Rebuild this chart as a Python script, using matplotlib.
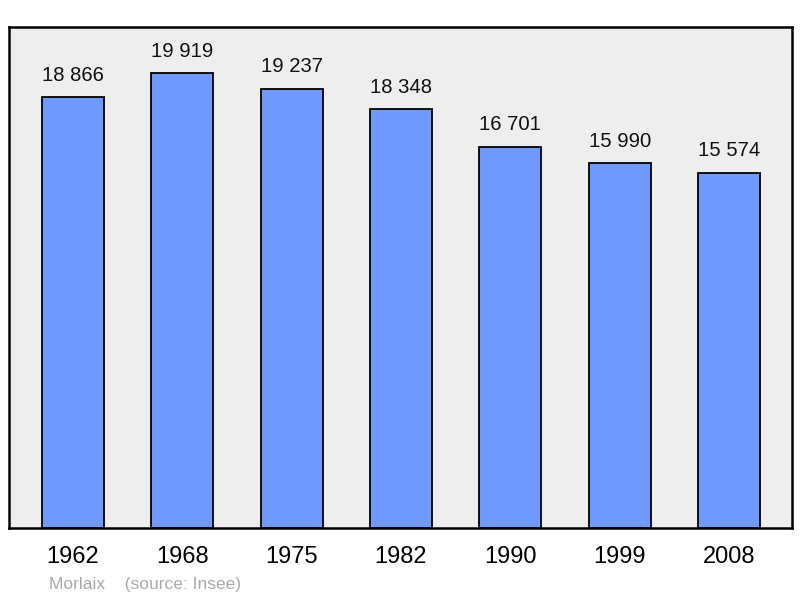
import matplotlib
matplotlib.use("Agg")
import matplotlib.pyplot as plt

years = ["1962", "1968", "1975", "1982", "1990", "1999", "2008"]
population = [18866, 19919, 19237, 18348, 16701, 15990, 15574]
value_labels = ["18 866", "19 919", "19 237", "18 348", "16 701", "15 990", "15 574"]

plt.rcParams['font.family'] = ['Liberation Sans', 'DejaVu Sans']

fig = plt.figure(figsize=(8, 5.98), dpi=100)
ax = fig.add_axes([9/800, 1 - 528/598, 783/800, 501/598])
ax.set_facecolor('#eeeeee')

x = list(range(len(years)))
ax.bar(x, population, width=0.567, color='#7099ff', edgecolor='black', linewidth=1.3, zorder=2)
for xi, v, lab in zip(x, population, value_labels):
    ax.annotate(lab, (xi, v), xytext=(0, 9), textcoords='offset points',
                ha='center', va='bottom', fontsize=14.6, color='#111111')

ax.set_xlim(-0.585, 6.576)
ax.set_ylim(0, 21950)
ax.set_yticks([])
ax.set_xticks(x)
ax.set_xticklabels(years, fontsize=17)
ax.tick_params(axis='x', length=0, pad=13)
for s in ax.spines.values():
    s.set_linewidth(1.8)
    s.set_color('black')

fig.text(49/800, 1 - 584/598, "Morlaix    (source: Insee)", fontsize=12.5, color='#aaaaaa',
         ha='left', va='center')

fig.savefig("out.png", dpi=100)
